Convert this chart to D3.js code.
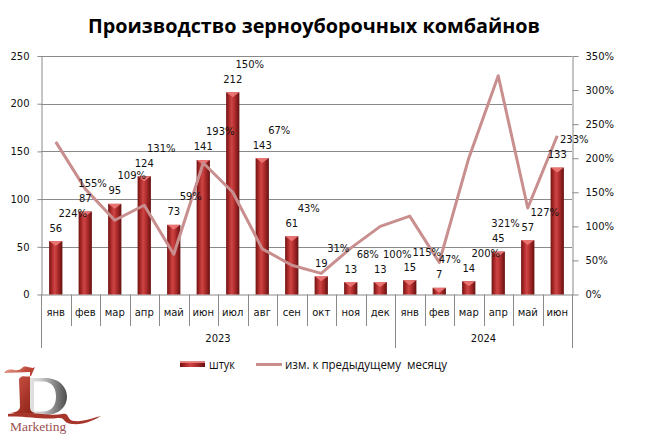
<!DOCTYPE html>
<html><head><meta charset="utf-8">
<script src="https://cdn.jsdelivr.net/npm/d3@7"></script>
<style>body{margin:0;background:#fff}svg{display:block}</style>
</head><body>
<svg id="c" width="661" height="439"></svg>
<script>
const months = ["янв","фев","мар","апр","май","июн","июл","авг","сен","окт","ноя","дек","янв","фев","мар","апр","май","июн"];
const years = ["2023","2024"];
const yearCounts = [12, 6];
const units = [56,87,95,124,73,141,212,143,61,19,13,13,15,7,14,45,57,133];
const changePct = [224,155,109,131,59,193,150,67,43,31,68,100,115,47,200,321,127,233];
const leftTicks = [0,50,100,150,200,250];
const rightTicks = [0,50,100,150,200,250,300,350];
const titleText = "Производство зерноуборочных комбайнов";
const legendLabels = ["штук","изм. к предыдущему  месяцу"];

const svg = d3.select("#c");
const L = 41, R = 572, T = 56, B = 294.5;
const FONT = "'DejaVu Sans', Verdana, sans-serif";

const x = d3.scaleBand().domain(d3.range(months.length)).range([L, R]).padding(0);
const yL = d3.scaleLinear().domain([0, 250]).range([B, T]);
const yR = d3.scaleLinear().domain([0, 350]).range([B, T]);
const bw = x.bandwidth() * 0.45;
const cxOf = i => x(i) + x.bandwidth()/2;

const defs = svg.append("defs");
const g1 = defs.append("linearGradient").attr("id","barG").attr("x1","0").attr("x2","1").attr("y1","0").attr("y2","0");
[["0%","#6f1212"],["20%","#a82828"],["42%","#cf4545"],["65%","#b02c2c"],["100%","#641010"]].forEach(s=>g1.append("stop").attr("offset",s[0]).attr("stop-color",s[1]));
const g2 = defs.append("linearGradient").attr("id","oneG").attr("x1","0").attr("x2","1").attr("y1","0").attr("y2","1");
[["0%","#e9a394"],["40%","#c04a3c"],["100%","#8a1f14"]].forEach(s=>g2.append("stop").attr("offset",s[0]).attr("stop-color",s[1]));
const g3 = defs.append("linearGradient").attr("id","dG").attr("x1","0").attr("x2","1").attr("y1","0").attr("y2","0");
[["0%","#f2f2f2"],["40%","#d0d0d0"],["70%","#8c8c8c"],["100%","#4e4e4e"]].forEach(s=>g3.append("stop").attr("offset",s[0]).attr("stop-color",s[1]));

// Title
svg.append("text").attr("x", 314).attr("y", 33).attr("text-anchor","middle")
  .attr("font-family","'Open Sans','Noto Sans',sans-serif").attr("font-weight","bold").attr("font-size",19)
  .attr("textLength",452).attr("lengthAdjust","spacingAndGlyphs").attr("fill","#000").text(titleText);

// Gridlines
svg.append("g").selectAll("line").data(leftTicks.slice(1)).join("line")
  .attr("x1",L).attr("x2",R).attr("y1",d=>Math.round(yL(d))+0.5).attr("y2",d=>Math.round(yL(d))+0.5)
  .attr("stroke","#8a8a8a").attr("stroke-width",1);

// Left axis
const ax = svg.append("g").attr("transform",`translate(${L+0.5},0)`)
  .call(d3.axisLeft(yL).tickValues(leftTicks).tickSize(4).tickPadding(8).tickSizeOuter(0));
ax.select(".domain").attr("stroke","#8a8a8a");
ax.selectAll(".tick line").attr("stroke","#8a8a8a");
ax.selectAll("text").attr("font-family",FONT).attr("font-size",10).attr("fill","#111");

// Right axis
const ar = svg.append("g").attr("transform",`translate(${R+0.5},0)`)
  .call(d3.axisRight(yR).tickValues(rightTicks).tickSize(6).tickPadding(7).tickSizeOuter(0).tickFormat(d=>d+"%"));
ar.select(".domain").attr("stroke","#8a8a8a");
ar.selectAll(".tick line").attr("stroke","#8a8a8a");
ar.selectAll("text").attr("font-family",FONT).attr("font-size",10).attr("fill","#111");

// Category axis baseline + separators
svg.append("line").attr("x1",L).attr("x2",R).attr("y1",B+0.5).attr("y2",B+0.5).attr("stroke","#8a8a8a");
const yearBounds = [0]; yearCounts.forEach((c,i)=>yearBounds.push(yearBounds[i]+c));
const seps = d3.range(months.length+1);
svg.append("g").selectAll("line").data(seps).join("line")
  .attr("x1",i=>Math.round(i<months.length?x(i):R)+0.5).attr("x2",i=>Math.round(i<months.length?x(i):R)+0.5)
  .attr("y1",B).attr("y2",i=>yearBounds.includes(i)?348:326)
  .attr("stroke","#8a8a8a");
svg.append("g").selectAll("text").data(months).join("text")
  .attr("x",(d,i)=>cxOf(i)).attr("y",316).attr("text-anchor","middle")
  .attr("font-family",FONT).attr("font-size",10).attr("fill","#111").text(d=>d);
svg.append("g").selectAll("text").data(years).join("text")
  .attr("x",(d,i)=>{const a=x(yearBounds[i]); const b=yearBounds[i+1]<months.length?x(yearBounds[i+1]):R; return (a+b)/2;})
  .attr("y",342).attr("text-anchor","middle")
  .attr("font-family",FONT).attr("font-size",10).attr("fill","#111").text(d=>d);

// Bars
const bars = svg.append("g");
units.forEach((v,i)=>{
  const cx = cxOf(i), top = yL(v), h = B - top;
  bars.append("rect").attr("x",cx-bw/2).attr("y",top).attr("width",bw).attr("height",h).attr("fill","url(#barG)");
  const cap = Math.min(4, h);
  bars.append("path").attr("d",`M${cx-bw/2},${top}L${cx+bw/2},${top}L${cx+bw/2-2},${top+1.5}L${cx},${top+cap+1}L${cx-bw/2+2},${top+1.5}Z`)
    .attr("fill","#ec7a78").attr("opacity",0.9);
});

// Line
const line = d3.line().x((d,i)=>cxOf(i)).y(d=>yR(d));
svg.append("path").datum(changePct).attr("d",line).attr("fill","none")
  .attr("stroke","#c98f8f").attr("stroke-width",3).attr("stroke-linejoin","round");

// Bar labels
const barLbl = svg.append("g").selectAll("text").data(units).join("text")
  .attr("x",(d,i)=>cxOf(i)).attr("y",d=>yL(d)-9.5).attr("text-anchor","middle")
  .attr("font-family",FONT).attr("font-size",10).attr("fill","#111").text(d=>d);
// Percent labels (placed up-right of each bar label; nudged left if they collide with the next bar label)
const barW = barLbl.nodes().map(n=>n.getComputedTextLength());
svg.append("g").selectAll("text").data(changePct).join("text")
  .attr("text-anchor","middle").attr("font-family",FONT).attr("font-size",10).attr("fill","#111")
  .text(d=>d+"%")
  .each(function(d,i){
    const w = this.getComputedTextLength();
    let px = cxOf(i)+17;
    const py = yL(units[i])-24.5;
    const j = i+1;
    if (j < units.length) {
      const by = yL(units[j])-9.5;
      if (Math.abs(by-py) < 11) {
        const left = cxOf(j) - barW[j]/2;
        const right = px + w/2;
        if (right > left - 1.5) px -= (right - left + 1.5);
      }
    }
    d3.select(this).attr("x",px).attr("y",py);
  });

// Legend
const lg = svg.append("g");
lg.append("rect").attr("x",180).attr("y",361.5).attr("width",25).attr("height",5.5).attr("fill","url(#barG)");
lg.append("rect").attr("x",180).attr("y",361.5).attr("width",25).attr("height",1.5).attr("fill","#ec7a78");
lg.append("text").attr("x",209).attr("y",369).attr("font-family","'Open Sans',sans-serif").attr("font-size",12.5)
  .attr("textLength",26).attr("lengthAdjust","spacingAndGlyphs").attr("fill","#111").text(legendLabels[0]);
lg.append("line").attr("x1",256).attr("x2",282).attr("y1",364.5).attr("y2",364.5).attr("stroke","#c98f8f").attr("stroke-width",3);
lg.append("text").attr("x",285).attr("y",369).attr("font-family","'Open Sans',sans-serif").attr("font-size",12.5)
  .attr("textLength",162).attr("lengthAdjust","spacingAndGlyphs").attr("fill","#111").attr("xml:space","preserve").text(legendLabels[1]);

// Logo
const logo = svg.append("g");
logo.append("path").attr("fill-rule","evenodd").attr("fill","url(#dG)")
  .attr("d","M22,378 L45,378 C60,378 67,388 67,396.5 C67,406 60,415 45,415 L22,415 L22,413 L25,412 L25,381 L22,380 Z M34,381.5 L34,411.5 L43,411.5 C52,411.5 56,405 56,396.5 C56,388 52,381.5 43,381.5 Z");
logo.append("path").attr("d","M4,373 C9,365 16,374 22,368 C26,364 31,370 35,367 L31,376 C26,378 23,374 19,379 L20,406 C20,410 17,412 11,413 L35,413 C31,412 30,410 30,406 L30,372 Z")
  .attr("fill","url(#oneG)");
logo.append("path").attr("d","M8,414 C30,410 50,417 62,414 C70,412 66,420 74,421 C84,422 92,418 101,416 C92,421 84,425 72,424 C62,423 66,417 58,418 C44,420 28,416 8,416.5 Z")
  .attr("fill","#a8352a");
logo.append("text").attr("x",10).attr("y",431).attr("font-family","'Liberation Serif',serif").attr("font-size",13.5)
  .attr("fill","#9a5050").text("Marketing");
</script>
</body></html>
